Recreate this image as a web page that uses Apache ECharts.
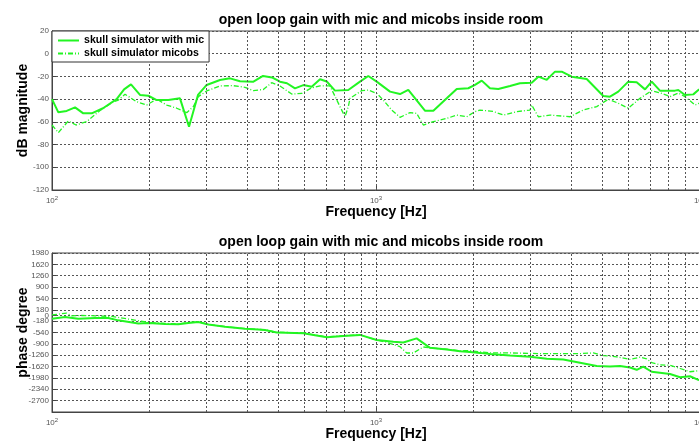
<!DOCTYPE html>
<html>
<head>
<meta charset="utf-8">
<script src="https://cdn.jsdelivr.net/npm/echarts@6/dist/echarts.min.js"></script>
<style>
  html, body { margin: 0; padding: 0; background: #fff; }
  #chart { width: 699px; height: 443px; }
</style>
</head>
<body>
<div id="chart"></div>
<script>
// Magnitude, skull simulator with mic: frequency [Hz] and dB
const magFreqMic = [100, 104.6, 111, 117.8, 124.9, 132.6, 143.7, 158.3, 166.9, 175.3, 186.9, 198.3, 210.5, 228.6, 248.3, 264.8, 282.2, 300.2, 330, 354.3, 380.4, 417.3, 448, 477.5, 505.3, 531.1, 562.3, 596.7, 633.3, 671.9, 704.6, 747.2, 821.4, 892.4, 946.7, 1005, 1105, 1186, 1258, 1416, 1503, 1653, 1775, 1927, 2021, 2120, 2248, 2385, 2592, 2782, 3024, 3170, 3365, 3569, 3743, 4018, 4470, 5029, 5275, 5595, 6008, 6377, 6766, 7095, 7523, 8372, 8570, 8989, 9535, 9881, 10000];
const magMic = [-40, -51.6, -50.4, -47.2, -52.5, -52.5, -48, -40, -31.4, -27, -36.3, -37, -40.8, -40.8, -39.3, -64.3, -36.3, -27.5, -23.1, -21.7, -24.2, -24.7, -19.6, -20.9, -24.6, -26, -30.5, -27.6, -29, -22.5, -24.5, -32.5, -32, -24.6, -19.6, -24.6, -33.4, -35.5, -31.9, -50.2, -50.2, -39.3, -31, -30.4, -27.5, -23.7, -30.4, -31, -28.4, -26, -25.6, -20.2, -23, -15.8, -15.8, -20.2, -22.3, -37.2, -37.8, -33.4, -24.6, -25.2, -31.4, -24.6, -32.5, -32.5, -32, -36.3, -35.8, -32, -31];

// Magnitude, skull simulator micobs
const magFreqObs = [100, 104.6, 112.3, 118.6, 128, 140.7, 154.6, 160.3, 168, 182.5, 196, 210.5, 225.9, 242.6, 260.5, 273.1, 282.8, 300.2, 330, 361.9, 394.2, 418.2, 448.9, 476.5, 505.3, 549.4, 589.9, 633.3, 671.9, 721.1, 774.3, 802.3, 821.4, 831.4, 903.4, 946.7, 1005, 1053, 1118, 1186, 1273, 1335, 1400, 1503, 1653, 1775, 1905, 2021, 2094, 2301, 2471, 2719, 2988, 3024, 3170, 3444, 3970, 4363, 4800, 5212, 5595, 6008, 6529, 7095, 7616, 8081, 8570, 8989, 9652, 9881, 10000];
const magObs = [-62.8, -69.5, -59.2, -62.8, -59.8, -50, -42.3, -40.8, -35.7, -42.3, -45.2, -40, -45.2, -48, -51.9, -46.5, -37.8, -32.8, -28.4, -28.1, -29.6, -32.5, -31.5, -25.5, -28.4, -35.5, -35, -30, -28.4, -28.4, -46.6, -55.5, -46.6, -39.3, -32.5, -32, -34.9, -40.8, -49.6, -56, -51.9, -52.5, -62.8, -59.8, -57, -54, -55.5, -51, -49.6, -50.8, -54, -51, -49.6, -45.2, -55.5, -54, -55.5, -49.6, -46.6, -40.1, -43.6, -48, -39.3, -32.5, -34.9, -37.8, -34.6, -37.8, -45.2, -44, -43];

// Phase, skull simulator with mic: frequency [Hz] and degrees
const phaseFreqMic = [100, 109.7, 120.5, 135.8, 149.2, 160.2, 184.6, 198.3, 223.3, 245.4, 263.4, 282.8, 303.7, 342, 394.2, 433.3, 454.5, 493.8, 596.7, 704.6, 793, 892.4, 1005, 1131, 1214, 1335, 1468, 1653, 1817, 1950, 2094, 2248, 2592, 2988, 3365, 3786, 4263, 4800, 5275, 5664, 6081, 6377, 6683, 7095, 8081, 8677, 9313, 9881, 10000];
const phaseMic = [-103, -52, -103, -82, -82, -155, -258, -237, -268, -278, -237, -206, -288, -360, -422, -443, -460, -540, -562, -693, -649, -616, -780, -836, -858, -727, -1027, -1080, -1133, -1157, -1186, -1219, -1270, -1311, -1373, -1393, -1496, -1599, -1620, -1599, -1651, -1723, -1620, -1784, -1856, -1959, -1928, -2041, -2050];

// Phase, skull simulator micobs
const phaseFreqObs = [100, 111, 115, 123.5, 135.8, 152.7, 172, 198.3, 223.3, 245.4, 263.4, 282.8, 303.7, 342, 394.2, 454.5, 493.8, 596.7, 704.6, 793, 892.4, 1005, 1079, 1186, 1244, 1304, 1400, 1468, 1653, 1817, 1950, 2248, 2592, 3170, 4263, 4685, 5029, 5533, 6081, 6529, 6845, 7095, 7523, 8081, 8677, 9313, 9881, 10000];
const phaseObs = [20, 72, -10, 0, -10, -31, -113, -220, -250, -270, -225, -200, -280, -355, -415, -455, -530, -555, -680, -640, -610, -780, -850, -990, -1190, -1190, -1000, -1030, -1070, -1120, -1116, -1188, -1188, -1208, -1208, -1188, -1270, -1311, -1393, -1321, -1373, -1496, -1568, -1578, -1681, -1784, -1753, -1760];

// Axis ticks and labels
const freqGridLines = [200, 300, 400, 500, 600, 700, 800, 900, 1000, 2000, 3000, 4000, 5000, 6000, 7000, 8000, 9000];
const freqTickValues = [100, 1000, 10000];
const freqTickExponents = ['2', '3', '4'];
const phaseTicks = [1980, 1620, 1260, 900, 540, 180, 0, -180, -540, -900, -1260, -1620, -1980, -2340, -2700];

const seriesNames = ['skull simulator with mic', 'skull simulator micobs'];
const titleText = 'open loop gain with mic and micobs inside room';

const GREEN = '#22f522';
const GRID_COLOR = '#555';
const FONT = '"Liberation Sans", Arial, sans-serif';
const TICK_FONT = '"Liberation Sans Narrow", "Arial Narrow", "Liberation Sans", sans-serif';

const zip = (xs, ys) => xs.map((x, i) => [x, ys[i]]);

const gridTop = [31, 253];
const plotLeft = 52, plotWidth = 648, plotHeight = 159;

function xAxisFor(gridIndex) {
  return {
    type: 'log', logBase: 10, gridIndex, min: 100, max: 10000,
    name: 'Frequency [Hz]', nameLocation: 'middle', nameGap: 15, nameMoveOverlap: false,
    nameTextStyle: { fontFamily: FONT, fontWeight: 'bold', fontSize: 14, color: '#000' },
    axisLine: { show: true, onZero: false, lineStyle: { color: '#444', width: 1 } },
    axisTick: { show: true, inside: true, length: 4, lineStyle: { color: '#444' } },
    splitLine: { show: false },
    axisLabel: {
      margin: 5,
      hideOverlap: false,
      formatter: v => {
        const i = freqTickValues.indexOf(Math.round(v));
        return i < 0 ? '' : '{b|10}{e|' + freqTickExponents[i] + '}';
      },
      rich: {
        b: { fontFamily: TICK_FONT, fontSize: 8, color: '#555', lineHeight: 10, verticalAlign: 'bottom' },
        e: { fontFamily: TICK_FONT, fontSize: 6, color: '#555', lineHeight: 10, verticalAlign: 'top' }
      }
    }
  };
}

const yNameStyle = { fontFamily: FONT, fontWeight: 'bold', fontSize: 14, color: '#000' };
const yLabelStyle = { fontFamily: TICK_FONT, fontSize: 8, color: '#555', margin: 3, formatter: v => String(v) };
const splitStyle = { show: true, lineStyle: { color: GRID_COLOR, type: [2, 2], width: 1 } };

function lineSeries(name, data, axisIndex, solid) {
  return {
    name, type: 'line', data, xAxisIndex: axisIndex, yAxisIndex: axisIndex,
    symbol: 'none', showSymbol: false, z: 3, animation: false,
    lineStyle: solid
      ? { color: GREEN, width: 2 }
      : { color: GREEN, width: 1.3, type: [5, 2, 1, 2] },
    itemStyle: { color: GREEN }
  };
}

function gridLineSeries(axisIndex) {
  return {
    type: 'line', data: [], xAxisIndex: axisIndex, yAxisIndex: axisIndex,
    z: 1, silent: true, animation: false,
    markLine: {
      silent: true, symbol: 'none', label: { show: false }, animation: false,
      lineStyle: { color: GRID_COLOR, type: [2, 2], width: 1 },
      data: freqGridLines.map(v => ({ xAxis: v }))
    }
  };
}

const chart = echarts.init(document.getElementById('chart'), null, { renderer: 'canvas' });
chart.setOption({
  animation: false,
  backgroundColor: '#fff',
  title: [
    { text: titleText, left: 376, top: 8, textAlign: 'center',
      textStyle: { fontFamily: FONT, fontWeight: 'bold', fontSize: 14, color: '#000' } },
    { text: titleText, left: 376, top: 230, textAlign: 'center',
      textStyle: { fontFamily: FONT, fontWeight: 'bold', fontSize: 14, color: '#000' } }
  ],
  legend: {
    data: seriesNames, orient: 'vertical', left: 52, top: 31,
    padding: [3, 5, 2, 5], itemGap: 0, itemWidth: 21, itemHeight: 13,
    backgroundColor: '#fff', borderColor: '#333', borderWidth: 1,
    itemStyle: { opacity: 0 },
    textStyle: { fontFamily: FONT, fontWeight: 'bold', fontSize: 10.6, color: '#000', lineHeight: 13 },
    z: 10
  },
  grid: gridTop.map(t => ({
    left: plotLeft, top: t, width: plotWidth, height: plotHeight,
    outerBoundsMode: 'none', containLabel: false,
    show: true, borderColor: '#444', borderWidth: 1, backgroundColor: '#fff'
  })),
  xAxis: [xAxisFor(0), xAxisFor(1)],
  yAxis: [
    {
      type: 'value', gridIndex: 0, min: -120, max: 20, interval: 20,
      name: 'dB magnitude', nameLocation: 'middle', nameGap: 22, nameMoveOverlap: false,
      nameTextStyle: yNameStyle,
      axisLine: { show: true, onZero: false, lineStyle: { color: '#444' } },
      axisTick: { show: true, inside: true, length: 4, lineStyle: { color: '#444' } },
      axisLabel: yLabelStyle,
      splitLine: splitStyle
    },
    {
      type: 'value', gridIndex: 1, min: -3060, max: 1980,
      name: 'phase degree', nameLocation: 'middle', nameGap: 22, nameMoveOverlap: false,
      nameTextStyle: yNameStyle,
      axisLine: { show: true, onZero: false, lineStyle: { color: '#444' } },
      axisTick: { show: true, inside: true, length: 4, lineStyle: { color: '#444' }, customValues: phaseTicks },
      axisLabel: Object.assign({ customValues: phaseTicks }, yLabelStyle),
      splitLine: splitStyle
    }
  ],
  series: [
    gridLineSeries(0),
    gridLineSeries(1),
    lineSeries(seriesNames[0], zip(magFreqMic, magMic), 0, true),
    lineSeries(seriesNames[1], zip(magFreqObs, magObs), 0, false),
    lineSeries(seriesNames[0], zip(phaseFreqMic, phaseMic), 1, true),
    lineSeries(seriesNames[1], zip(phaseFreqObs, phaseObs), 1, false)
  ]
});
</script>
</body>
</html>
